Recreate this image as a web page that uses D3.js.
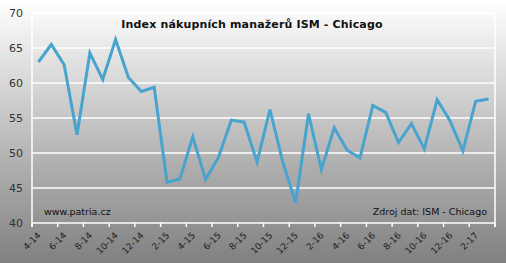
<!DOCTYPE html>
<html>
<head>
<meta charset="utf-8">
<script src="https://cdn.jsdelivr.net/npm/d3@7"></script>
<style>
  body { margin: 0; }
  svg { display: block; }
</style>
</head>
<body>
<div id="chart"></div>
<script>
// mesice 4-14 .. 3-17
let months = ['4-14', '5-14', '6-14', '7-14', '8-14', '9-14', '10-14', '11-14', '12-14',
  '1-15', '2-15', '3-15', '4-15', '5-15', '6-15', '7-15', '8-15', '9-15', '10-15', '11-15', '12-15',
  '1-16', '2-16', '3-16', '4-16', '5-16', '6-16', '7-16', '8-16', '9-16', '10-16', '11-16', '12-16',
  '1-17', '2-17', '3-17']
let values = [63.0, 65.5, 62.6, 52.6, 64.3, 60.5, 66.2, 60.8, 58.8,
  59.4, 45.8, 46.3, 52.3, 46.2, 49.4, 54.7, 54.4, 48.7, 56.2, 48.7, 42.9,
  55.6, 47.6, 53.6, 50.4, 49.3, 56.8, 55.8, 51.5, 54.2, 50.6, 57.6, 54.6,
  50.3, 57.4, 57.7]
let yTicks = [40, 45, 50, 55, 60, 65, 70]
let title = 'Index nákupních manažerů ISM - Chicago'

let width = 506
let height = 263
let margin = { top: 13, right: 11, bottom: 40, left: 32 }

let svg = d3.select('#chart')
  .append('svg')
  .attr('width', width)
  .attr('height', height)

let grad = svg.append('defs')
  .append('linearGradient')
  .attr('id', 'bg')
  .attr('x1', 0).attr('y1', 0)
  .attr('x2', 0).attr('y2', 1)
grad.append('stop').attr('offset', '0%').attr('stop-color', '#ffffff')
grad.append('stop').attr('offset', '100%').attr('stop-color', '#808080')

svg.append('rect')
  .attr('width', width)
  .attr('height', height)
  .attr('fill', 'url(#bg)')

let x = d3.scaleBand()
  .domain(months)
  .range([margin.left, width - margin.right])
let y = d3.scaleLinear()
  .domain([40, 70])
  .range([height - margin.bottom, margin.top])

// mrizka
svg.append('g')
  .selectAll('line')
  .data(yTicks)
  .enter()
  .append('line')
  .attr('x1', margin.left)
  .attr('x2', width - margin.right)
  .attr('y1', d => y(d))
  .attr('y2', d => y(d))
  .attr('stroke', '#ffffff')
  .attr('stroke-width', 1.5)

// ramecek
svg.append('line')
  .attr('x1', margin.left).attr('x2', margin.left)
  .attr('y1', margin.top).attr('y2', height - margin.bottom + 4)
  .attr('stroke', '#ffffff').attr('stroke-width', 1.5)
svg.append('line')
  .attr('x1', width - margin.right).attr('x2', width - margin.right)
  .attr('y1', margin.top).attr('y2', height - margin.bottom + 4)
  .attr('stroke', '#ffffff').attr('stroke-width', 1.5)

// y popisky
svg.append('g')
  .selectAll('text')
  .data(yTicks)
  .enter()
  .append('text')
  .attr('x', margin.left - 9)
  .attr('y', d => y(d) + 4)
  .attr('text-anchor', 'end')
  .style('font-family', 'DejaVu Sans, Verdana, sans-serif')
  .style('font-size', '11px')
  .style('fill', '#333')
  .text(d => d)

// x tiky na hranicich kategorii, kazde druhe
let tickIdx = d3.range(0, months.length + 1, 2)
svg.append('g')
  .selectAll('line')
  .data(tickIdx)
  .enter()
  .append('line')
  .attr('x1', i => margin.left + i * x.step())
  .attr('x2', i => margin.left + i * x.step())
  .attr('y1', height - margin.bottom)
  .attr('y2', height - margin.bottom + 4)
  .attr('stroke', '#ffffff')
  .attr('stroke-width', 1.5)

svg.append('g')
  .selectAll('text')
  .data(months.filter((d, i) => i % 2 === 0))
  .enter()
  .append('text')
  .attr('text-anchor', 'end')
  .attr('transform', d => {
    let cx = x(d) + x.bandwidth() / 2 + 3
    let cy = height - margin.bottom + 13
    return 'translate(' + cx + ',' + cy + ')rotate(-45)'
  })
  .style('font-family', 'DejaVu Sans, Verdana, sans-serif')
  .style('font-size', '9px')
  .style('fill', '#222')
  .text(d => d)

// cara
let line = d3.line()
  .x((d, i) => x(months[i]) + x.bandwidth() / 2)
  .y(d => y(d))

svg.append('path')
  .datum(values)
  .attr('d', line)
  .attr('fill', 'none')
  .attr('stroke', '#48a4cf')
  .attr('stroke-width', 3)
  .attr('stroke-linejoin', 'miter')

svg.append('text')
  .attr('x', 252)
  .attr('y', 28)
  .attr('text-anchor', 'middle')
  .style('font-family', 'DejaVu Sans, Verdana, sans-serif')
  .style('font-size', '11px')
  .style('font-weight', 'bold')
  .style('letter-spacing', '0.15px')
  .style('fill', '#111')
  .text(title)

svg.append('text')
  .attr('x', 44)
  .attr('y', 215)
  .style('font-family', 'DejaVu Sans, Verdana, sans-serif')
  .style('font-size', '9.5px')
  .style('fill', '#111')
  .text('www.patria.cz')

svg.append('text')
  .attr('x', 487)
  .attr('y', 215)
  .attr('text-anchor', 'end')
  .style('font-family', 'DejaVu Sans, Verdana, sans-serif')
  .style('font-size', '9.5px')
  .style('fill', '#111')
  .text('Zdroj dat: ISM - Chicago')
</script>
</body>
</html>
